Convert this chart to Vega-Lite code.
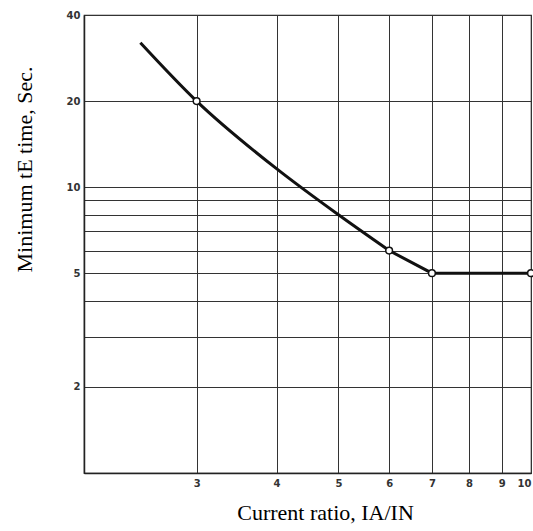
{
  "$schema": "https://vega.github.io/schema/vega-lite/v6.json",
  "width": 447,
  "height": 458,
  "autosize": {"type": "none"},
  "padding": {"left": 84, "top": 15, "right": 2, "bottom": 58},
  "background": "white",
  "config": {
    "view": {"stroke": "#222", "strokeWidth": 1.2},
    "axis": {
      "grid": true,
      "gridColor": "#333",
      "gridWidth": 1,
      "gridOpacity": 1,
      "domainColor": "#222",
      "domainWidth": 1.5,
      "ticks": false,
      "labelFont": "DejaVu Sans",
      "labelFontSize": 10,
      "labelFontWeight": "bold",
      "labelColor": "#333",
      "titleFont": "Liberation Serif",
      "titleFontSize": 22,
      "titleFontWeight": "normal",
      "titleColor": "#000"
    }
  },
  "data": {
    "values": [
      {"ratio": 2.45, "time": 32, "marker": false, "seg": "curve"},
      {"ratio": 3, "time": 20, "marker": true, "seg": "curve"},
      {"ratio": 4, "time": 11.6, "marker": false, "seg": "curve"},
      {"ratio": 5, "time": 8, "marker": false, "seg": "curve"},
      {"ratio": 6, "time": 6, "marker": true, "seg": "curve"},
      {"ratio": 6, "time": 6, "marker": false, "seg": "straight"},
      {"ratio": 7, "time": 5, "marker": true, "seg": "straight"},
      {"ratio": 10, "time": 5, "marker": true, "seg": "straight"}
    ]
  },
  "encoding": {
    "x": {
      "field": "ratio",
      "type": "quantitative",
      "scale": {"type": "log", "domain": [2, 10], "nice": false},
      "axis": {
        "values": [3, 4, 5, 6, 7, 8, 9, 10],
        "format": "d",
        "labelPadding": 5,
        "title": "Current ratio, IA/IN",
        "titlePadding": 14,
        "titleX": 241
      }
    },
    "y": {
      "field": "time",
      "type": "quantitative",
      "scale": {"type": "log", "domain": [1, 40], "nice": false},
      "axis": {
        "values": [2, 3, 4, 5, 6, 7, 8, 9, 10, 20, 40],
        "format": "d",
        "labelExpr": "indexof([2,5,10,20,40], datum.value) >= 0 ? datum.label : ''",
        "labelPadding": 4,
        "title": "Minimum tE time, Sec.",
        "titlePadding": 30,
        "titleY": 154
      }
    }
  },
  "layer": [
    {
      "transform": [{"filter": "datum.seg === 'curve'"}],
      "mark": {"type": "line", "interpolate": "monotone", "color": "#111", "strokeWidth": 3}
    },
    {
      "transform": [{"filter": "datum.seg === 'straight'"}],
      "mark": {"type": "line", "interpolate": "linear", "color": "#111", "strokeWidth": 3}
    },
    {
      "transform": [{"filter": "datum.marker"}],
      "mark": {"type": "point", "shape": "circle", "filled": true, "fill": "white", "stroke": "#111", "strokeWidth": 1.5, "size": 45, "opacity": 1}
    }
  ]
}
